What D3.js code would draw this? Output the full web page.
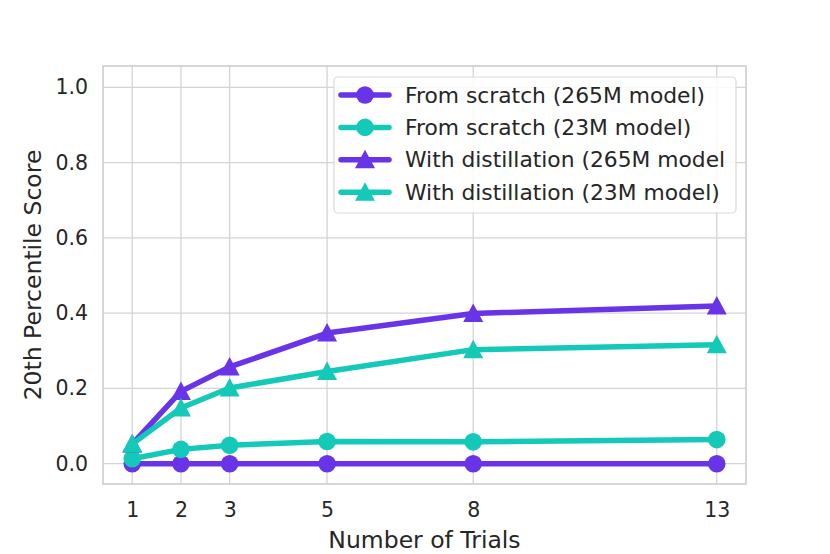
<!DOCTYPE html>
<html>
<head>
<meta charset="utf-8">
<script src="https://cdn.jsdelivr.net/npm/d3@7"></script>
<style>
  body { margin: 0; background: #fff; }
  text { font-family: "DejaVu Sans", sans-serif; fill: #262626; }
</style>
</head>
<body>
<svg id="chart" width="830" height="554"></svg>
<script>
// data
var trials = [1, 2, 3, 5, 8, 13];
var scratch265 = [0.0, 0.0, 0.0, 0.0, 0.0, 0.0];
var scratch23 = [0.013, 0.038, 0.049, 0.059, 0.058, 0.064];
var distill265 = [0.052, 0.192, 0.257, 0.347, 0.399, 0.419];
var distill23 = [0.052, 0.148, 0.201, 0.245, 0.303, 0.316];
var yTicks = [0.0, 0.2, 0.4, 0.6, 0.8, 1.0];
var seriesNames = [
  "From scratch (265M model)",
  "From scratch (23M model)",
  "With distillation (265M model",
  "With distillation (23M model)"
];

var purple = "#6934e8", teal = "#15c9b8";

var series = [
  {name: seriesNames[0], values: scratch265, color: purple, marker: "circle"},
  {name: seriesNames[1], values: scratch23, color: teal, marker: "circle"},
  {name: seriesNames[2], values: distill265, color: purple, marker: "triangle"},
  {name: seriesNames[3], values: distill23, color: teal, marker: "triangle"}
];

var pLeft = 103, pRight = 746, pTop = 66, pBottom = 484;

var x = d3.scaleLinear().domain([0.4, 13.6]).range([pLeft, pRight]);
var y = d3.scaleLinear().domain([-0.054, 1.0566]).range([pBottom, pTop]);

var svg = d3.select("#chart");

// grid
var grid = svg.append("g");
grid.selectAll(".gx").data(trials).enter().append("line")
  .attr("x1", function (d) { return x(d); })
  .attr("x2", function (d) { return x(d); })
  .attr("y1", pTop).attr("y2", pBottom)
  .attr("stroke", "#d4d4d4").attr("stroke-width", 1.3);
grid.selectAll(".gy").data(yTicks).enter().append("line")
  .attr("y1", function (d) { return y(d); })
  .attr("y2", function (d) { return y(d); })
  .attr("x1", pLeft).attr("x2", pRight)
  .attr("stroke", "#d4d4d4").attr("stroke-width", 1.3);

// axes (labels only, seaborn whitegrid has no tick marks)
var xAxis = svg.append("g")
  .attr("transform", "translate(0," + pBottom + ")")
  .call(d3.axisBottom(x).tickValues(trials).tickSize(0).tickPadding(18).tickFormat(d3.format("d")));
var yAxis = svg.append("g")
  .attr("transform", "translate(" + pLeft + ",0)")
  .call(d3.axisLeft(y).tickValues(yTicks).tickSize(0).tickPadding(15).tickFormat(d3.format(".1f")));
[xAxis, yAxis].forEach(function (a) {
  a.select(".domain").remove();
  a.selectAll("text").style("font-size", "20.5px").attr("fill", "#262626");
});

// frame
svg.append("rect")
  .attr("x", pLeft).attr("y", pTop)
  .attr("width", pRight - pLeft).attr("height", pBottom - pTop)
  .attr("fill", "none").attr("stroke", "#cccccc").attr("stroke-width", 1.6);

// lines and markers
var line = d3.line()
  .x(function (d, i) { return x(trials[i]); })
  .y(function (d) { return y(d); });

function drawMarker(g, marker, color) {
  if (marker === "circle") {
    g.append("circle").attr("r", 8.8).attr("fill", color);
  } else {
    g.append("path").attr("d", "M0,-10L10,8.5L-10,8.5Z").attr("fill", color);
  }
}

series.forEach(function (s) {
  var g = svg.append("g");
  g.append("path")
    .datum(s.values)
    .attr("d", line)
    .attr("fill", "none")
    .attr("stroke", s.color)
    .attr("stroke-width", 5.5)
    .attr("stroke-linejoin", "round")
    .attr("stroke-linecap", "round");
  g.selectAll(".m").data(s.values).enter().append("g")
    .attr("transform", function (d, i) { return "translate(" + x(trials[i]) + "," + y(d) + ")"; })
    .each(function () { drawMarker(d3.select(this), s.marker, s.color); });
});

// legend
var legend = svg.append("g");
legend.append("rect")
  .attr("x", 334).attr("y", 77).attr("width", 402).attr("height", 136)
  .attr("rx", 4).attr("fill", "#fff").attr("fill-opacity", 0.85)
  .attr("stroke", "#dadada").attr("stroke-width", 1.2);
series.forEach(function (s, i) {
  var cy = 95 + i * 32.4;
  var row = legend.append("g").attr("transform", "translate(0," + cy + ")");
  row.append("line").attr("x1", 341).attr("x2", 389).attr("y1", 0).attr("y2", 0)
    .attr("stroke", s.color).attr("stroke-width", 5.5).attr("stroke-linecap", "round");
  drawMarker(row.append("g").attr("transform", "translate(365,0)"), s.marker, s.color);
  row.append("text").attr("x", 405).attr("y", 7.5)
    .style("font-size", "21.8px").text(s.name);
});

// axis titles
svg.append("text")
  .attr("x", (pLeft + pRight) / 2).attr("y", 548)
  .attr("text-anchor", "middle").style("font-size", "23.5px")
  .text("Number of Trials");
svg.append("text")
  .attr("transform", "translate(41," + (pTop + pBottom) / 2 + ") rotate(-90)")
  .attr("text-anchor", "middle").style("font-size", "23.5px")
  .text("20th Percentile Score");
</script>
</body>
</html>
